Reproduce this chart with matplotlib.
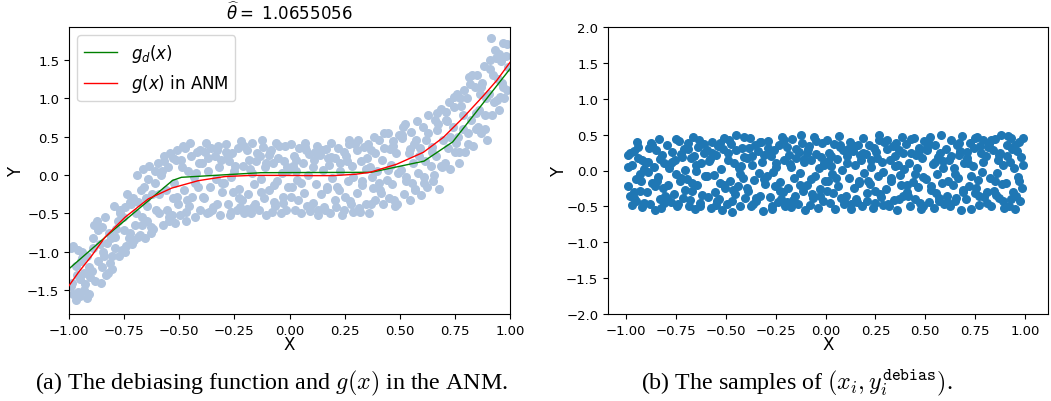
import matplotlib
matplotlib.use("Agg")
import numpy as np
import matplotlib.pyplot as plt

# sample x positions (shared by both panels) in bins
x_samples = [
    -0.99, -0.98, -0.97, -0.97, -0.96, -0.95, -0.95, -0.94, -0.93, -0.93, -0.92, -0.92, -0.91, -0.99, -0.96, -0.94, -0.91, -0.98,
    -0.895, -0.89, -0.88, -0.875, -0.87, -0.86, -0.855, -0.85, -0.84, -0.835, -0.83, -0.82, -0.815, -0.81, -0.805, -0.885, -0.845, -0.825,
    -0.795, -0.79, -0.785, -0.775, -0.77, -0.76, -0.755, -0.75, -0.745, -0.735, -0.73, -0.72, -0.715, -0.71, -0.705, -0.78, -0.74, -0.725,
    -0.695, -0.69, -0.68, -0.675, -0.67, -0.665, -0.655, -0.65, -0.645, -0.64, -0.63, -0.625, -0.62, -0.61, -0.605, -0.685, -0.66, -0.635,
    -0.595, -0.59, -0.585, -0.575, -0.57, -0.56, -0.555, -0.55, -0.545, -0.54, -0.53, -0.525, -0.52, -0.51, -0.505, -0.58, -0.535, -0.515,
    -0.495, -0.49, -0.48, -0.475, -0.47, -0.46, -0.455, -0.45, -0.44, -0.435, -0.43, -0.42, -0.415, -0.41, -0.405, -0.485, -0.465, -0.425,
    -0.395, -0.39, -0.38, -0.375, -0.37, -0.36, -0.355, -0.35, -0.34, -0.335, -0.33, -0.32, -0.315, -0.31, -0.305, -0.385, -0.365, -0.325,
    -0.295, -0.29, -0.28, -0.275, -0.27, -0.26, -0.255, -0.25, -0.24, -0.235, -0.23, -0.22, -0.215, -0.21, -0.205, -0.285, -0.265, -0.225,
    -0.195, -0.19, -0.18, -0.175, -0.17, -0.16, -0.155, -0.15, -0.14, -0.135, -0.13, -0.12, -0.115, -0.11, -0.105, -0.185, -0.165, -0.125,
    -0.095, -0.09, -0.08, -0.075, -0.07, -0.06, -0.055, -0.05, -0.04, -0.035, -0.03, -0.02, -0.015, -0.01, -0.005, -0.085, -0.065, -0.025,
    0.005, 0.01, 0.02, 0.025, 0.03, 0.04, 0.045, 0.05, 0.06, 0.065, 0.07, 0.08, 0.085, 0.09, 0.095, 0.015, 0.035, 0.075,
    0.105, 0.11, 0.12, 0.125, 0.13, 0.14, 0.145, 0.15, 0.16, 0.165, 0.17, 0.18, 0.185, 0.19, 0.195, 0.115, 0.155, 0.175,
    0.205, 0.21, 0.22, 0.225, 0.23, 0.24, 0.245, 0.25, 0.26, 0.265, 0.27, 0.28, 0.285, 0.29, 0.295, 0.215, 0.255, 0.275,
    0.305, 0.31, 0.32, 0.325, 0.33, 0.34, 0.345, 0.35, 0.36, 0.365, 0.37, 0.38, 0.385, 0.39, 0.395, 0.315, 0.355, 0.375,
    0.405, 0.41, 0.42, 0.425, 0.43, 0.44, 0.445, 0.45, 0.46, 0.465, 0.47, 0.48, 0.485, 0.49, 0.495, 0.415, 0.455, 0.475,
    0.505, 0.51, 0.52, 0.525, 0.53, 0.54, 0.545, 0.55, 0.56, 0.565, 0.57, 0.58, 0.585, 0.59, 0.595, 0.515, 0.555, 0.575,
    0.605, 0.61, 0.62, 0.625, 0.63, 0.64, 0.645, 0.65, 0.66, 0.665, 0.67, 0.68, 0.685, 0.69, 0.695, 0.615, 0.655, 0.675,
    0.705, 0.71, 0.72, 0.725, 0.73, 0.74, 0.745, 0.75, 0.76, 0.765, 0.77, 0.78, 0.785, 0.79, 0.795, 0.715, 0.755, 0.775,
    0.805, 0.81, 0.82, 0.825, 0.83, 0.84, 0.845, 0.85, 0.86, 0.865, 0.87, 0.88, 0.885, 0.89, 0.895, 0.815, 0.855, 0.875,
    0.905, 0.91, 0.92, 0.925, 0.93, 0.94, 0.945, 0.95, 0.96, 0.965, 0.97, 0.975, 0.98, 0.985, 0.99, 0.915, 0.955, 0.935,
    -0.988, -0.962, -0.944, -0.927, -0.903, -0.892, -0.868, -0.852, -0.828, -0.807,
    -0.792, -0.768, -0.748, -0.722, -0.702, -0.688, -0.668, -0.648, -0.628, -0.608,
    -0.592, -0.567, -0.548, -0.528, -0.508, -0.488, -0.468, -0.447, -0.428, -0.408,
    -0.392, -0.368, -0.347, -0.328, -0.308, -0.288, -0.267, -0.248, -0.227, -0.208,
    -0.192, -0.172, -0.148, -0.128, -0.108, -0.092, -0.072, -0.048, -0.028, -0.008,
    0.008, 0.028, 0.052, 0.072, 0.092, 0.108, 0.128, 0.148, 0.168, 0.188,
    0.208, 0.228, 0.248, 0.268, 0.288, 0.308, 0.328, 0.348, 0.368, 0.388,
    0.408, 0.428, 0.448, 0.468, 0.488, 0.508, 0.528, 0.548, 0.568, 0.588,
    0.608, 0.628, 0.648, 0.668, 0.688, 0.708, 0.728, 0.748, 0.768, 0.788,
    0.808, 0.828, 0.848, 0.868, 0.888, 0.908, 0.928, 0.948, 0.968, 0.988,
]

# observed Y (left panel)
y_samples = [
    -0.95, -1.55, -1.18, -1.62, -0.98, -1.35, -1.58, -1.0, -1.28, -1.5, -1.05, -1.6, -1.2, -1.45, -1.52, -1.08, -1.55, -0.92,
    -1.25, -0.82, -1.38, -0.6, -1.12, -0.9, -1.4, -0.68, -1.05, -0.55, -1.3, -0.75, -1.15, -0.82, -1.22, -0.65, -1.0, -1.28,
    -0.4, -0.95, -0.7, -1.05, -0.45, -0.98, -0.55, -0.72, -1.0, -0.25, -0.82, -0.38, -0.9, -0.3, -0.85, -0.6, -0.92, -0.35,
    -0.5, 0.0, -0.78, -0.2, -0.65, 0.08, -0.82, -0.3, -0.6, -0.05, -0.75, -0.25, -0.7, -0.1, -0.45, -0.8, -0.15, 0.12,
    0.15, -0.5, 0.0, -0.65, 0.25, -0.2, -0.45, 0.1, -0.55, 0.28, -0.3, -0.1, -0.62, 0.32, -0.38, 0.05, -0.52, 0.2,
    -0.52, 0.2, -0.2, 0.35, -0.6, 0.05, -0.4, 0.42, -0.28, -0.02, -0.55, 0.3, -0.15, 0.15, -0.45, 0.38, -0.32, 0.02,
    0.15, -0.3, 0.42, -0.5, 0.05, -0.15, 0.35, -0.45, 0.25, -0.05, -0.38, 0.1, -0.52, 0.2, -0.22, 0.3, -0.48, 0.38,
    -0.1, 0.4, -0.38, 0.18, -0.52, 0.28, -0.22, 0.05, -0.45, 0.35, -0.18, 0.44, -0.32, 0.12, -0.5, 0.22, -0.03, -0.42,
    0.32, -0.25, 0.08, -0.5, 0.42, -0.12, -0.38, 0.18, -0.46, 0.25, -0.05, 0.36, -0.3, 0.1, -0.52, 0.2, -0.42, 0.45,
    -0.2, 0.3, -0.48, 0.15, -0.35, 0.42, -0.08, 0.22, -0.5, 0.03, -0.28, 0.38, -0.45, 0.1, -0.16, 0.32, -0.4, 0.18,
    0.4, -0.15, 0.25, -0.45, 0.05, -0.32, 0.35, -0.5, 0.15, -0.24, 0.42, -0.4, 0.0, 0.27, -0.47, 0.12, -0.06, 0.32,
    -0.36, 0.2, -0.12, 0.38, -0.52, 0.26, -0.25, 0.07, -0.45, 0.34, -0.18, 0.13, -0.5, 0.42, -0.04, 0.3, -0.42, 0.22,
    0.22, -0.42, 0.35, -0.2, 0.05, -0.52, 0.3, -0.28, 0.18, -0.08, 0.45, -0.38, 0.12, -0.48, 0.4, -0.15, 0.25, -0.34,
    -0.24, 0.45, -0.48, 0.18, -0.08, 0.36, -0.38, 0.22, -0.5, 0.1, 0.32, -0.17, 0.5, -0.33, 0.05, -0.43, 0.4, -0.03,
    0.45, -0.2, 0.2, -0.38, 0.35, -0.06, 0.55, -0.3, 0.13, -0.12, 0.44, -0.4, 0.28, 0.02, 0.52, -0.24, 0.34, -0.32,
    0.06, 0.48, -0.25, 0.66, -0.08, 0.28, -0.32, 0.56, 0.15, 0.4, -0.18, 0.7, 0.02, 0.35, -0.26, 0.62, -0.1, 0.45,
    0.62, -0.03, 0.45, -0.15, 0.78, 0.12, 0.36, -0.08, 0.72, 0.25, 0.58, -0.18, 0.86, 0.1, 0.46, 0.18, 0.0, 0.66,
    0.15, 0.72, 0.35, 0.95, 0.08, 0.62, 0.88, 0.3, 1.05, 0.5, 0.15, 0.9, 0.6, 1.1, 0.3, 0.7, 0.42, 1.0,
    1.0, 0.4, 1.18, 0.72, 0.38, 1.15, 0.6, 1.3, 0.85, 1.05, 0.55, 1.42, 0.78, 1.0, 0.45, 1.28, 0.62, 1.2,
    1.05, 1.5, 0.78, 1.3, 1.62, 0.98, 1.25, 0.85, 1.48, 1.2, 1.72, 1.0, 1.55, 1.1, 1.4, 1.78, 1.02, 1.52,
    -1.4, -1.3, -1.12, -1.42, -1.33, -0.95, -0.72, -1.2, -0.88, -1.05,
    -0.8, -0.5, -0.42, -0.75, -0.65, -0.35, -0.55, -0.4, -0.68, 0.05,
    -0.25, 0.18, -0.6, 0.22, -0.28, 0.1, -0.48, 0.25, -0.1, 0.33,
    -0.28, 0.22, -0.42, 0.32, -0.1, 0.3, -0.48, 0.12, -0.3, 0.38,
    -0.44, 0.02, 0.28, -0.22, 0.15, 0.26, -0.13, 0.38, -0.36, 0.06,
    -0.28, 0.2, -0.1, 0.36, -0.42, 0.1, -0.46, 0.32, -0.15, 0.24,
    -0.32, 0.15, -0.45, 0.4, -0.02, 0.32, -0.13, 0.08, -0.38, 0.28,
    -0.1, 0.55, 0.06, 0.38, -0.38, 0.52, -0.02, 0.34, -0.2, 0.25,
    -0.1, 0.55, 0.3, 0.8, 0.12, 0.82, 0.5, 1.02, 0.3, 0.78,
    0.55, 1.3, 0.8, 1.15, 0.6, 1.38, 0.95, 1.58, 1.15, 1.7,
]

# debiased Y (right panel)
y_debias = [
    0.21, -0.35, 0.08, -0.48, 0.27, -0.12, -0.42, 0.33, -0.05, -0.28, 0.15, -0.51, 0.02, -0.22, -0.38, 0.18, -0.45, 0.25,
    -0.3, 0.12, -0.47, 0.38, -0.18, 0.05, -0.55, 0.29, -0.09, 0.44, -0.4, 0.22, -0.25, 0.1, -0.36, 0.31, -0.14, -0.52,
    0.35, -0.2, 0.04, -0.44, 0.26, -0.33, 0.14, -0.05, -0.5, 0.41, -0.15, 0.19, -0.39, 0.3, -0.27, 0.09, -0.46, 0.23,
    -0.12, 0.39, -0.41, 0.18, -0.29, 0.47, -0.53, 0.07, -0.2, 0.33, -0.45, 0.11, -0.34, 0.25, -0.08, -0.49, 0.2, 0.43,
    0.28, -0.37, 0.13, -0.52, 0.4, -0.06, -0.3, 0.21, -0.43, 0.34, -0.17, 0.02, -0.55, 0.45, -0.24, 0.16, -0.4, 0.3,
    -0.46, 0.24, -0.15, 0.37, -0.58, 0.1, -0.33, 0.5, -0.22, 0.03, -0.5, 0.32, -0.1, 0.19, -0.39, 0.42, -0.27, 0.06,
    0.17, -0.28, 0.45, -0.5, 0.08, -0.13, 0.36, -0.42, 0.27, -0.04, -0.35, 0.12, -0.56, 0.22, -0.19, 0.31, -0.47, 0.4,
    -0.08, 0.41, -0.37, 0.2, -0.54, 0.29, -0.21, 0.05, -0.44, 0.35, -0.16, 0.47, -0.3, 0.14, -0.49, 0.25, -0.02, -0.4,
    0.33, -0.25, 0.09, -0.51, 0.44, -0.11, -0.36, 0.18, -0.46, 0.26, -0.03, 0.38, -0.29, 0.12, -0.55, 0.21, -0.41, 0.49,
    -0.2, 0.3, -0.48, 0.15, -0.33, 0.46, -0.07, 0.23, -0.52, 0.04, -0.26, 0.39, -0.43, 0.11, -0.15, 0.34, -0.38, 0.19,
    0.42, -0.14, 0.25, -0.45, 0.06, -0.31, 0.37, -0.53, 0.16, -0.22, 0.48, -0.39, 0.01, 0.28, -0.47, 0.13, -0.05, 0.33,
    -0.35, 0.2, -0.1, 0.4, -0.54, 0.27, -0.24, 0.08, -0.44, 0.35, -0.17, 0.14, -0.5, 0.45, -0.03, 0.3, -0.4, 0.22,
    0.23, -0.42, 0.36, -0.19, 0.05, -0.52, 0.31, -0.28, 0.18, -0.08, 0.5, -0.37, 0.12, -0.48, 0.4, -0.14, 0.26, -0.33,
    -0.26, 0.43, -0.5, 0.15, -0.11, 0.34, -0.41, 0.2, -0.55, 0.08, 0.29, -0.2, 0.47, -0.36, 0.02, -0.46, 0.38, -0.06,
    0.37, -0.3, 0.1, -0.49, 0.25, -0.16, 0.45, -0.4, 0.03, -0.23, 0.32, -0.53, 0.17, -0.09, 0.41, -0.35, 0.22, -0.45,
    -0.12, 0.28, -0.44, 0.46, -0.27, 0.09, -0.52, 0.36, -0.05, 0.19, -0.38, 0.5, -0.18, 0.13, -0.47, 0.4, -0.31, 0.24,
    0.3, -0.36, 0.14, -0.5, 0.43, -0.2, 0.04, -0.43, 0.35, -0.1, 0.22, -0.55, 0.48, -0.27, 0.1, -0.15, -0.39, 0.27,
    -0.4, 0.18, -0.22, 0.39, -0.53, 0.06, 0.31, -0.32, 0.47, -0.13, -0.48, 0.25, -0.02, 0.42, -0.37, 0.11, -0.25, 0.34,
    0.2, -0.45, 0.37, -0.11, -0.5, 0.29, -0.28, 0.44, -0.04, 0.15, -0.38, 0.5, -0.19, 0.07, -0.52, 0.33, -0.34, 0.24,
    -0.17, 0.36, -0.49, 0.12, 0.45, -0.3, 0.03, -0.54, 0.27, -0.09, 0.4, -0.42, 0.19, -0.25, 0.08, 0.48, -0.36, 0.3,
    0.05, -0.3, 0.4, -0.15, 0.12, -0.02, 0.35, -0.22, 0.16, -0.45,
    -0.38, 0.12, 0.44, -0.1, 0.01, 0.3, -0.18, 0.0, -0.5, 0.37,
    -0.08, 0.25, -0.48, 0.38, -0.2, 0.14, -0.42, 0.28, -0.05, 0.47,
    -0.25, 0.2, -0.38, 0.4, -0.12, 0.32, -0.5, 0.1, -0.28, 0.43,
    -0.44, 0.05, 0.3, -0.2, 0.16, 0.25, -0.12, 0.41, -0.36, 0.07,
    -0.28, 0.2, -0.1, 0.36, -0.42, 0.1, -0.46, 0.34, -0.15, 0.24,
    -0.32, 0.15, -0.45, 0.42, -0.02, 0.3, -0.15, 0.06, -0.4, 0.24,
    -0.2, 0.44, -0.05, 0.27, -0.5, 0.33, -0.22, 0.12, -0.42, 0.04,
    -0.44, 0.2, -0.05, 0.38, -0.3, 0.26, -0.08, 0.45, -0.36, 0.12,
    -0.3, 0.42, -0.14, 0.22, -0.42, 0.2, -0.4, 0.35, -0.15, 0.45,
]

# debiasing function g_d(x) (green, piecewise linear)
gd_x = [-1.0, -0.8, -0.53, -0.49, -0.13, 0.37, 0.61, 0.74, 1.0]
gd_y = [-1.22, -0.72, -0.07, -0.03, 0.03, 0.035, 0.18, 0.43, 1.38]

# g(x) in the ANM (red)
g_x = [-1.0, -0.958, -0.897, -0.837, -0.746, -0.64, -0.534, -0.414, -0.293, -0.171,
       -0.05, 0.1, 0.2, 0.3, 0.365, 0.486, 0.607, 0.698, 0.789, 0.879, 0.94, 1.0]
g_y = [-1.44, -1.27, -1.05, -0.81, -0.55, -0.31, -0.17, -0.074, -0.02, -0.005,
       -0.005, -0.008, -0.008, 0.01, 0.035, 0.14, 0.295, 0.49, 0.75, 1.03, 1.23, 1.465]

theta_hat = "1.0655056"

W, H = 1051, 402
fig = plt.figure(figsize=(W / 100, H / 100), dpi=100)

ax1 = fig.add_axes([69 / W, 1 - 315 / H, (510 - 69) / W, (315 - 28) / H])
ax2 = fig.add_axes([608 / W, 1 - 315 / H, (1048 - 608) / W, (315 - 28) / H])

# left: samples with the two curves
ax1.scatter(x_samples, y_samples, s=30, color="lightsteelblue", zorder=1)
ax1.plot(gd_x, gd_y, color="green", linewidth=1.0, label=r"$g_d(x)$", zorder=2)
ax1.plot(g_x, g_y, color="red", linewidth=1.0, label=r"$g(x)$ in ANM", zorder=3)
ax1.set_xlim(-1.0, 1.0)
ax1.set_ylim(-1.808, 1.925)
ax1.set_xticks(np.arange(-1.0, 1.01, 0.25))
ax1.set_yticks(np.arange(-1.5, 1.51, 0.5))
ax1.set_title(r"$\widehat{\theta} = $ " + theta_hat, fontsize=12)
ax1.legend(loc="upper left", fontsize=12)

# right: debiased samples
ax2.scatter(x_samples, y_debias, s=30, color="#1f77b4")
ax2.set_xlim(-1.09, 1.115)
ax2.set_ylim(-2.0, 2.0)
ax2.set_xticks(np.arange(-1.0, 1.01, 0.25))
ax2.set_yticks(np.arange(-2.0, 2.01, 0.5))

for ax, ylab_x in ((ax1, (25 - 69) / 441), (ax2, (568 - 608) / 440)):
    ax.tick_params(labelsize=9.5)
    ax.set_xlabel("X", fontsize=12, labelpad=-1.5)
    ax.set_ylabel("Y", fontsize=12)
    ax.yaxis.set_label_coords(ylab_x, 0.5)

# sub-figure captions
fig.text(271 / W, 1 - 383 / H, r"(a) The debiasing function and $g(x)$ in the ANM.",
         ha="center", va="center", fontsize=17.3, family="Liberation Serif",
         math_fontfamily="cm")
fig.text(797 / W, 1 - 383 / H, r"(b) The samples of $(x_i, y_i^{\mathtt{debias}})$.",
         ha="center", va="center", fontsize=17.3, family="Liberation Serif",
         math_fontfamily="cm")

fig.savefig("out.png", dpi=100)
